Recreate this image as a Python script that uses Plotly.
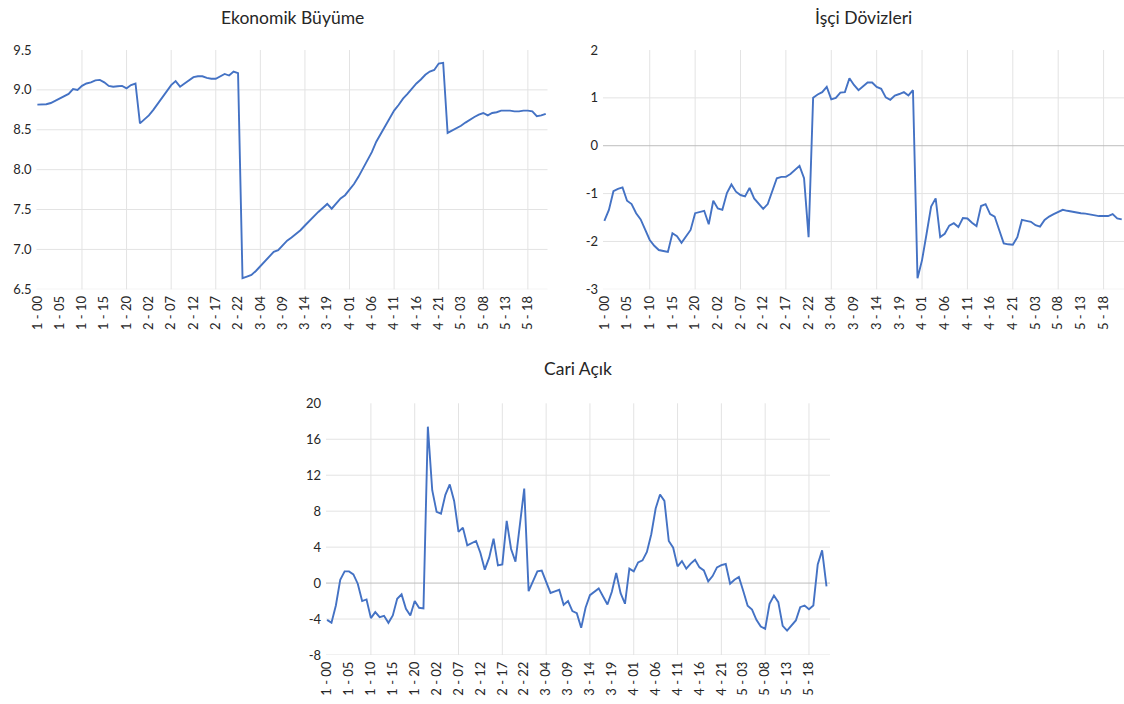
import plotly.graph_objects as go

# ------------------------------------------------------------
# Veri: 5 grup x 23 yil (00-22)
# ------------------------------------------------------------
GRUPLAR = [1, 2, 3, 4, 5]
YILLAR = ["00", "01", "02", "03", "04", "05", "06", "07", "08", "09", "10", "11",
          "12", "13", "14", "15", "16", "17", "18", "19", "20", "21", "22"]
KATEGORILER = [f"{g} - {y}" for g in GRUPLAR for y in YILLAR]

EKONOMIK_BUYUME = [
    8.815, 8.815, 8.82, 8.835, 8.865, 8.885, 8.92, 8.95, 9.01, 9.0, 9.05, 9.08,
    9.095, 9.12, 9.125, 9.095, 9.05, 9.04, 9.045, 9.05, 9.02, 9.06, 9.08,
    8.58, 8.63, 8.68, 8.75, 8.83, 8.90, 8.98, 9.06, 9.11, 9.04, 9.08, 9.12,
    9.16, 9.17, 9.17, 9.15, 9.14, 9.14, 9.17, 9.20, 9.18, 9.23, 9.21,
    6.64, 6.66, 6.68, 6.73, 6.79, 6.86, 6.92, 6.97, 6.99, 7.05, 7.11, 7.15,
    7.19, 7.24, 7.30, 7.36, 7.41, 7.47, 7.52, 7.57, 7.51, 7.58, 7.64,
    7.68, 7.75, 7.82, 7.91, 8.01, 8.11, 8.22, 8.35, 8.45, 8.54, 8.64, 8.74,
    8.81, 8.89, 8.95, 9.02, 9.08, 9.13, 9.19, 9.23, 9.25, 9.33, 9.34,
    8.46, 8.49, 8.51, 8.55, 8.59, 8.63, 8.66, 8.69, 8.71, 8.68, 8.71, 8.72,
    8.74, 8.74, 8.74, 8.73, 8.73, 8.74, 8.74, 8.73, 8.67, 8.68, 8.70,
]

ISCI_DOVIZLERI = [
    -1.57, -1.34, -0.95, -0.90, -0.87, -1.15, -1.22, -1.41, -1.54, -1.76, -1.97, -2.09,
    -2.18, -2.20, -2.22, -1.83, -1.89, -2.03, -1.90, -1.76, -1.41, -1.38, -1.36,
    -1.64, -1.15, -1.31, -1.34, -0.99, -0.81, -0.96, -1.03, -1.06, -0.88, -1.10, -1.22,
    -1.32, -1.22, -0.95, -0.68, -0.65, -0.65, -0.59, -0.51, -0.42, -0.68, -1.91,
    1.00, 1.07, 1.12, 1.23, 0.97, 1.00, 1.11, 1.12, 1.41, 1.27, 1.16, 1.25,
    1.32, 1.32, 1.23, 1.19, 1.01, 0.96, 1.05, 1.08, 1.12, 1.05, 1.16,
    -2.77, -2.39, -1.84, -1.27, -1.10, -1.91, -1.84, -1.67, -1.62, -1.70, -1.51, -1.52,
    -1.61, -1.68, -1.26, -1.22, -1.43, -1.48, -1.76, -2.04, -2.06, -2.07, -1.91,
    -1.55, -1.57, -1.59, -1.66, -1.69, -1.55, -1.48, -1.43, -1.38, -1.34, -1.36, -1.38,
    -1.39, -1.41, -1.42, -1.44, -1.46, -1.47, -1.47, -1.47, -1.43, -1.52, -1.54,
]

CARI_ACIK = [
    -4.09, -4.42, -2.49, 0.37, 1.30, 1.30, 0.97, -0.07, -2.00, -1.82, -3.90, -3.23,
    -3.79, -3.64, -4.42, -3.60, -1.75, -1.26, -2.86, -3.60, -2.00, -2.75, -2.81,
    17.4, 10.33, 7.92, 7.73, 9.81, 10.97, 9.14, 5.69, 6.17, 4.20, 4.46, 4.68,
    3.35, 1.49, 2.83, 4.94, 1.97, 2.08, 6.91, 3.79, 2.38, 6.43, 10.52,
    -0.89, 0.30, 1.30, 1.38, 0.22, -1.10, -0.92, -0.74, -2.42, -2.00, -3.12, -3.35,
    -4.98, -2.75, -1.34, -0.97, -0.59, -1.49, -2.38, -0.97, 1.12, -1.12, -2.30,
    1.60, 1.30, 2.30, 2.53, 3.46, 5.43, 8.29, 9.85, 9.14, 4.68, 3.94, 1.86,
    2.45, 1.60, 2.16, 2.60, 1.75, 1.41, 0.19, 0.78, 1.75, 2.00, 2.12,
    -0.07, 0.37, 0.67, -0.89, -2.53, -2.94, -4.09, -4.83, -5.09, -2.30, -1.38, -2.12,
    -4.76, -5.28, -4.76, -4.16, -2.68, -2.49, -2.90, -2.49, 2.08, 3.64, -0.37,
]

Y1_TICKS = [6.5, 7.0, 7.5, 8.0, 8.5, 9.0, 9.5]
Y2_TICKS = [-3, -2, -1, 0, 1, 2]
Y3_TICKS = [-8, -4, 0, 4, 8, 12, 16, 20]

# ------------------------------------------------------------
# Stil
# ------------------------------------------------------------
W, H = 1124, 704
FONT = "Lato"
TEXT = "#262626"
GRID = "#e3e3e3"
ZERO = "#bdbdbd"
LINE = "#4472c4"


def px_x(p):
    return p / W


def px_y(p):
    return 1 - p / H


def fmt(v):
    return f"{v:.1f}" if isinstance(v, float) else str(v)


fig = go.Figure()

paneller = [
    # (seri, x ekseni, y ekseni, x domain px, y domain px, x range, y ticks)
    (EKONOMIK_BUYUME, "x", "y", (36.5, 547.5), (50, 289.3), (-0.2, 114.4), Y1_TICKS),
    (ISCI_DOVIZLERI, "x2", "y2", (603, 1124), (50, 289.3), (-0.3, 114.5), Y2_TICKS),
    (CARI_ACIK, "x3", "y3", (326, 830), (403.3, 655), (-0.25, 114.8), Y3_TICKS),
]

shapes = []
for n, (seri, xa, ya, xd, yd, xr, yt) in enumerate(paneller, start=1):
    fig.add_trace(go.Scatter(
        x=KATEGORILER, y=seri, xaxis=xa, yaxis=ya,
        mode="lines", line=dict(color=LINE, width=1.9),
        showlegend=False, hoverinfo="x+y",
    ))
    sfx = "" if n == 1 else str(n)
    fig.layout["xaxis" + sfx] = dict(
        domain=[px_x(xd[0]), px_x(xd[1])],
        anchor=ya, type="category", range=list(xr), automargin=False,
        tickmode="array", tickvals=KATEGORILER[::5], ticktext=KATEGORILER[::5],
        tickangle=-90, showgrid=False, zeroline=False, showline=False, ticks="",
        ticklabelstandoff=3,
        tickfont=dict(family=FONT, size=13, color=TEXT),
    )
    fig.layout["yaxis" + sfx] = dict(
        domain=[px_y(yd[1]), px_y(yd[0])],
        anchor=xa, range=[min(yt), max(yt)], automargin=False,
        tickmode="array", tickvals=yt, ticktext=[fmt(v) for v in yt],
        showgrid=False, zeroline=False, showline=False, ticks="",
        ticklabelstandoff=4,
        tickfont=dict(family=FONT, size=13, color=TEXT),
    )
    # dikey izgara: her 10 kategoride bir
    for k in KATEGORILER[10::10]:
        shapes.append(dict(type="line", xref=xa, yref=ya + " domain",
                           x0=k, x1=k, y0=0, y1=1, layer="below",
                           line=dict(color=GRID, width=1)))
    # yatay izgara (ust sinir haric)
    for v in yt[:-1]:
        shapes.append(dict(type="line", xref=xa + " domain", yref=ya,
                           x0=0, x1=1, y0=v, y1=v, layer="below",
                           line=dict(color=ZERO if v == 0 else GRID, width=1)))

basliklar = [
    ("Ekonomik Büyüme", 292, 17),
    ("İşçi Dövizleri", 863, 17),
    ("Cari Açık", 578, 368),
]
annotations = [
    dict(text=t, x=px_x(cx), y=px_y(cy), xref="paper", yref="paper",
         xanchor="center", yanchor="middle", showarrow=False,
         font=dict(family=FONT, size=17.5, color=TEXT))
    for t, cx, cy in basliklar
]

fig.update_layout(
    width=W, height=H,
    margin=dict(l=0, r=0, t=0, b=0, pad=0, autoexpand=False),
    paper_bgcolor="white", plot_bgcolor="white",
    shapes=shapes, annotations=annotations,
    font=dict(family=FONT, color=TEXT),
)

# sayfa kenar boslugunu kaldir
fig.write_html("out.html", config={"displayModeBar": False},
               post_script="document.body.style.margin='0';")
